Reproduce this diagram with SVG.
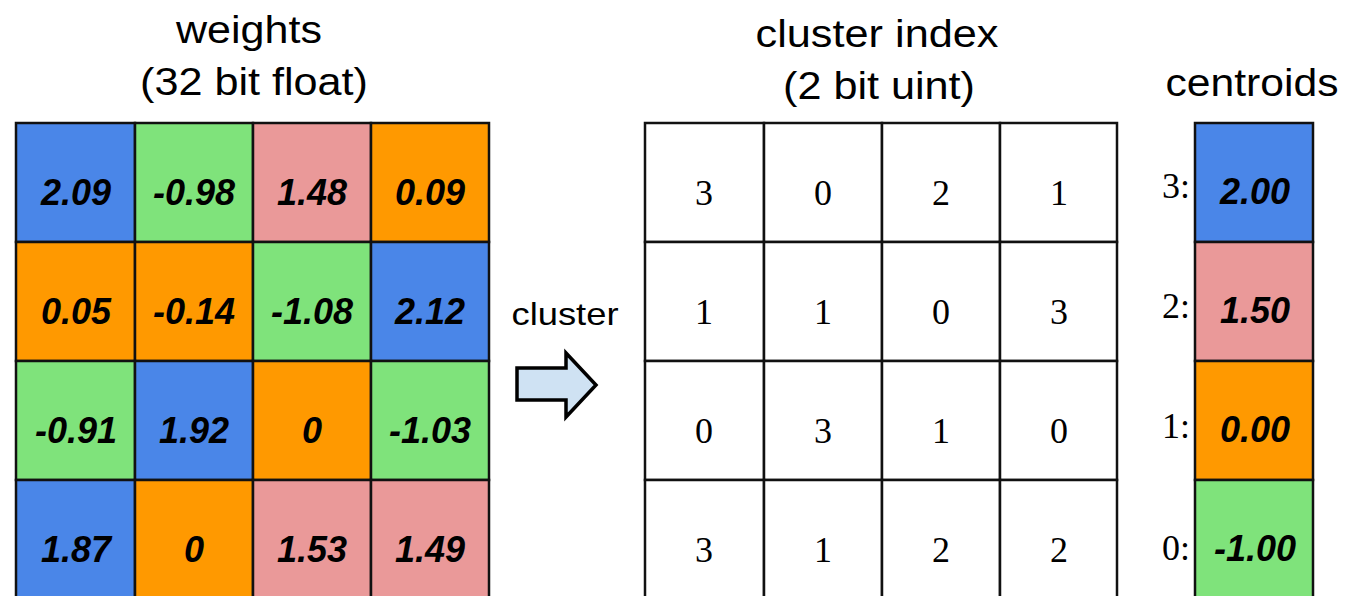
<svg xmlns="http://www.w3.org/2000/svg" width="1347" height="596" viewBox="0 0 1347 596">
<style>
.title{font-family:"Liberation Sans",Arial,sans-serif;font-size:38px;fill:#000;text-anchor:middle}
.w{font-family:"Liberation Sans",Arial,sans-serif;font-size:36px;font-weight:bold;font-style:italic;fill:#000;text-anchor:middle}
.idx{font-family:"Liberation Serif","Times New Roman",serif;font-size:36px;fill:#000;text-anchor:middle}
.lbl{font-family:"Liberation Serif","Times New Roman",serif;font-size:36px;fill:#000;text-anchor:end}
.cell{stroke:#111;stroke-width:2.5}
.b{fill:#4a86e8}.g{fill:#7fe37b}.p{fill:#ea9999}.o{fill:#ff9900}.wh{fill:#fff}
</style>
<rect width="1347" height="596" fill="#fff"/>
<g id="titles">
<text class="title" x="249" y="43" textLength="146" lengthAdjust="spacingAndGlyphs">weights</text>
<text class="title" x="254" y="95" textLength="228" lengthAdjust="spacingAndGlyphs">(32 bit float)</text>
<text class="title" x="877" y="47" textLength="243" lengthAdjust="spacingAndGlyphs">cluster index</text>
<text class="title" x="879" y="99" textLength="192" lengthAdjust="spacingAndGlyphs">(2 bit uint)</text>
<text class="title" x="1252" y="96" textLength="173" lengthAdjust="spacingAndGlyphs">centroids</text>
</g>
<g id="weights">
<g id="w00"><rect class="cell b" x="16" y="123" width="119" height="119"/><text class="w" x="76" y="205">2.09</text></g>
<g id="w01"><rect class="cell g" x="135" y="123" width="118" height="119"/><text class="w" x="194" y="205">-0.98</text></g>
<g id="w02"><rect class="cell p" x="253" y="123" width="118" height="119"/><text class="w" x="312" y="205">1.48</text></g>
<g id="w03"><rect class="cell o" x="371" y="123" width="118" height="119"/><text class="w" x="430" y="205">0.09</text></g>
<g id="w10"><rect class="cell o" x="16" y="242" width="119" height="119"/><text class="w" x="76" y="324">0.05</text></g>
<g id="w11"><rect class="cell o" x="135" y="242" width="118" height="119"/><text class="w" x="194" y="324">-0.14</text></g>
<g id="w12"><rect class="cell g" x="253" y="242" width="118" height="119"/><text class="w" x="312" y="324">-1.08</text></g>
<g id="w13"><rect class="cell b" x="371" y="242" width="118" height="119"/><text class="w" x="430" y="324">2.12</text></g>
<g id="w20"><rect class="cell g" x="16" y="361" width="119" height="119"/><text class="w" x="76" y="443">-0.91</text></g>
<g id="w21"><rect class="cell b" x="135" y="361" width="118" height="119"/><text class="w" x="194" y="443">1.92</text></g>
<g id="w22"><rect class="cell o" x="253" y="361" width="118" height="119"/><text class="w" x="312" y="443">0</text></g>
<g id="w23"><rect class="cell g" x="371" y="361" width="118" height="119"/><text class="w" x="430" y="443">-1.03</text></g>
<g id="w30"><rect class="cell b" x="16" y="480" width="119" height="119"/><text class="w" x="76" y="562">1.87</text></g>
<g id="w31"><rect class="cell o" x="135" y="480" width="118" height="119"/><text class="w" x="194" y="562">0</text></g>
<g id="w32"><rect class="cell p" x="253" y="480" width="118" height="119"/><text class="w" x="312" y="562">1.53</text></g>
<g id="w33"><rect class="cell p" x="371" y="480" width="118" height="119"/><text class="w" x="430" y="562">1.49</text></g>
</g>
<g id="index">
<g id="i00"><rect class="cell wh" x="645" y="123" width="119" height="119"/><text class="idx" x="704" y="205">3</text></g>
<g id="i01"><rect class="cell wh" x="764" y="123" width="118" height="119"/><text class="idx" x="823" y="205">0</text></g>
<g id="i02"><rect class="cell wh" x="882" y="123" width="118" height="119"/><text class="idx" x="941" y="205">2</text></g>
<g id="i03"><rect class="cell wh" x="1000" y="123" width="117" height="119"/><text class="idx" x="1059" y="205">1</text></g>
<g id="i10"><rect class="cell wh" x="645" y="242" width="119" height="119"/><text class="idx" x="704" y="324">1</text></g>
<g id="i11"><rect class="cell wh" x="764" y="242" width="118" height="119"/><text class="idx" x="823" y="324">1</text></g>
<g id="i12"><rect class="cell wh" x="882" y="242" width="118" height="119"/><text class="idx" x="941" y="324">0</text></g>
<g id="i13"><rect class="cell wh" x="1000" y="242" width="117" height="119"/><text class="idx" x="1059" y="324">3</text></g>
<g id="i20"><rect class="cell wh" x="645" y="361" width="119" height="119"/><text class="idx" x="704" y="443">0</text></g>
<g id="i21"><rect class="cell wh" x="764" y="361" width="118" height="119"/><text class="idx" x="823" y="443">3</text></g>
<g id="i22"><rect class="cell wh" x="882" y="361" width="118" height="119"/><text class="idx" x="941" y="443">1</text></g>
<g id="i23"><rect class="cell wh" x="1000" y="361" width="117" height="119"/><text class="idx" x="1059" y="443">0</text></g>
<g id="i30"><rect class="cell wh" x="645" y="480" width="119" height="119"/><text class="idx" x="704" y="562">3</text></g>
<g id="i31"><rect class="cell wh" x="764" y="480" width="118" height="119"/><text class="idx" x="823" y="562">1</text></g>
<g id="i32"><rect class="cell wh" x="882" y="480" width="118" height="119"/><text class="idx" x="941" y="562">2</text></g>
<g id="i33"><rect class="cell wh" x="1000" y="480" width="117" height="119"/><text class="idx" x="1059" y="562">2</text></g>
</g>
<g id="centroids">
<g id="c3"><rect class="cell b" x="1195" y="123" width="118" height="119"/><text class="w" x="1255" y="204">2.00</text><text class="lbl" x="1190" y="198">3:</text></g>
<g id="c2"><rect class="cell p" x="1195" y="242" width="118" height="119"/><text class="w" x="1255" y="323">1.50</text><text class="lbl" x="1190" y="318">2:</text></g>
<g id="c1"><rect class="cell o" x="1195" y="361" width="118" height="119"/><text class="w" x="1255" y="442">0.00</text><text class="lbl" x="1190" y="438">1:</text></g>
<g id="c0"><rect class="cell g" x="1195" y="480" width="118" height="119"/><text class="w" x="1255" y="561">-1.00</text><text class="lbl" x="1190" y="560">0:</text></g>
</g>
<g id="connectors">
<text class="title" x="565" y="325" textLength="107" lengthAdjust="spacingAndGlyphs" style="font-size:32px">cluster</text>
<polygon points="517,368 566,368 566,353 596,385 566,417 566,400 517,400" fill="#cfe2f3" stroke="#000" stroke-width="3.5" stroke-linejoin="miter"/>
</g>
</svg>
